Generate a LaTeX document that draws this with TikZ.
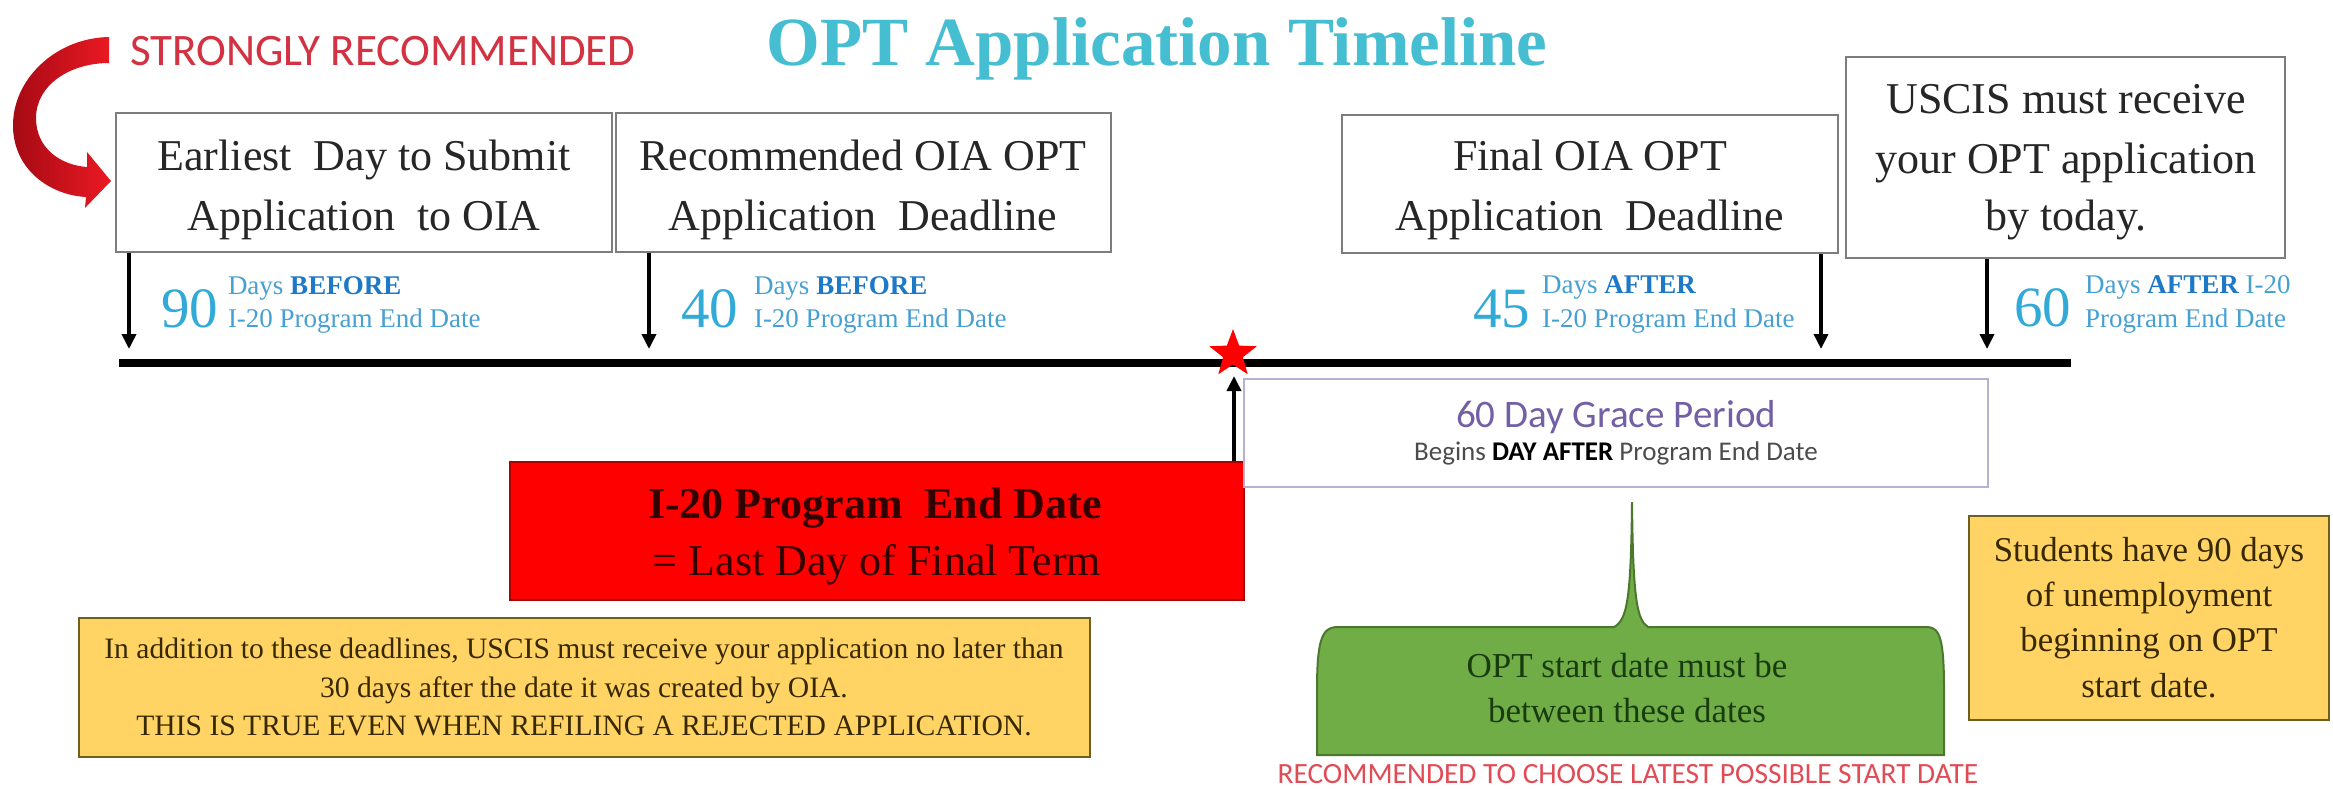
\documentclass[tikz,border=0pt]{standalone}
\usepackage{fontspec}
\setmainfont{Liberation Serif}
\newfontfamily\calibri{Carlito}
\usetikzlibrary{arrows.meta,shapes.geometric}
\definecolor{titlecyan}{RGB}{70,190,210}
\definecolor{strongred}{RGB}{210,50,65}
\definecolor{numcyan}{RGB}{50,170,215}
\definecolor{daysblue}{RGB}{70,160,210}
\definecolor{boldblue}{RGB}{30,120,200}
\definecolor{boxgray}{RGB}{125,125,125}
\definecolor{gracepurple}{RGB}{115,95,165}
\definecolor{graceborder}{RGB}{185,175,210}
\definecolor{redfill}{RGB}{255,0,0}
\definecolor{redborder}{RGB}{170,0,0}
\definecolor{goldfill}{RGB}{255,212,100}
\definecolor{goldborder}{RGB}{110,95,30}
\definecolor{goldtext}{RGB}{55,40,0}
\definecolor{greenfill}{RGB}{112,173,71}
\definecolor{greenborder}{RGB}{75,120,45}
\definecolor{greentext}{RGB}{25,60,15}
\definecolor{lowred}{RGB}{225,75,85}
\definecolor{darkcurve}{RGB}{165,10,20}
\definecolor{brightcurve}{RGB}{235,25,35}
\begin{document}
\begin{tikzpicture}[x=0.5pt,y=-0.5pt,
  lbl/.style={anchor=base,inner sep=0pt,outer sep=0pt},
  tbox/.style={draw=boxgray,line width=1pt,fill=white,inner sep=0pt},
  boxtxt/.style={lbl,font=\fontsize{22}{26}\selectfont,text=black!85},
  bignum/.style={lbl,anchor=base west,font=\fontsize{28.5}{30}\selectfont,text=numcyan},
  smalltxt/.style={lbl,anchor=base west,font=\fontsize{13.5}{15}\selectfont,text=daysblue},
  arr/.style={line width=1.8pt,-{Triangle[length=7.5pt,width=7pt]}},
  goldbox/.style={draw=goldborder,line width=1pt,fill=goldfill,inner sep=0pt},
  goldtxt/.style={lbl,text=goldtext},
]
\useasboundingbox (0,0) rectangle (2333,788);
\fill[white] (0,0) rectangle (2333,788);

% title and strongly recommended
\node[lbl,font=\fontsize{34.5}{38}\selectfont\bfseries,text=titlecyan] (title) at (1157,65) {OPT Application Timeline};
\node[lbl,anchor=base west,font=\calibri\fontsize{22.5}{24}\selectfont,text=strongred] (strong) at (130,65) {STRONGLY RECOMMENDED};

% curved red arrow
\shade[left color=darkcurve,right color=brightcurve]
  (109,37) .. controls (55,38) and (12,80) .. (13,127)
  .. controls (14,170) and (50,195) .. (86,197)
  -- (85,208) -- (111,181) -- (87,152) -- (87,167)
  .. controls (60,165) and (36,148) .. (36,118)
  .. controls (36,85) and (70,63) .. (109,63) -- cycle;

% top boxes
\node[tbox,minimum width=248pt,minimum height=69.5pt] (box1) at (364,182.5) {};
\node[tbox,minimum width=247.5pt,minimum height=69.5pt] (box2) at (863.5,182.5) {};
\node[tbox,minimum width=248pt,minimum height=69pt] (box3) at (1590,184) {};
\node[tbox,minimum width=219.5pt,minimum height=100.5pt] (box4) at (2065.5,157.5) {};

\node[boxtxt] (b1l1) at (364,170) {Earliest\ \ Day to Submit};
\node[boxtxt] (b1l2) at (364,230) {Application\ \ to OIA};
\node[boxtxt] (b2l1) at (863,170) {Recommended OIA OPT};
\node[boxtxt] (b2l2) at (863,230) {Application\ \ Deadline};
\node[boxtxt] (b3l1) at (1590,170) {Final OIA OPT};
\node[boxtxt] (b3l2) at (1590,230) {Application\ \ Deadline};
\node[boxtxt] (b4l1) at (2066,113) {USCIS must receive};
\node[boxtxt] (b4l2) at (2066,173) {your OPT application};
\node[boxtxt] (b4l3) at (2066,230) {by today.};

% day labels
\node[bignum] (n90) at (161,327) {90};
\node[smalltxt] (n90a) at (228,294) {Days \textcolor{boldblue}{\bfseries BEFORE}};
\node[smalltxt] (n90b) at (228,327) {I-20 Program End Date};
\node[bignum] (n40) at (681,327) {40};
\node[smalltxt] (n40a) at (754,294) {Days \textcolor{boldblue}{\bfseries BEFORE}};
\node[smalltxt] (n40b) at (754,327) {I-20 Program End Date};
\node[bignum] (n45) at (1473,327) {45};
\node[smalltxt] (n45a) at (1542,293) {Days \textcolor{boldblue}{\bfseries AFTER}};
\node[smalltxt] (n45b) at (1542,327) {I-20 Program End Date};
\node[bignum] (n60) at (2014,326) {60};
\node[smalltxt] (n60a) at (2085,293) {Days \textcolor{boldblue}{\bfseries AFTER} I-20};
\node[smalltxt] (n60b) at (2085,327) {Program End Date};

% timeline
\coordinate (tl0) at (119,363);
\coordinate (tl1) at (2071,363);
\draw[line width=3.8pt] (tl0) -- (tl1);

% down arrows
\coordinate (a1) at (129,349);
\coordinate (a2) at (649,349);
\coordinate (a3) at (1821,349);
\coordinate (a4) at (1987,349);
\draw[arr] (box1.south -| a1) -- (a1);
\draw[arr] (box2.south -| a2) -- (a2);
\draw[arr] (box3.south -| a3) -- (a3);
\draw[arr] (box4.south -| a4) -- (a4);

% red box and up arrow
\node[draw=redborder,line width=1pt,fill=redfill,minimum width=367pt,minimum height=69pt,inner sep=0pt] (endbox) at (877,531) {};
\node[lbl,font=\fontsize{22}{26}\selectfont\bfseries,text=black!80!red] (endl1) at (875,518) {I-20 Program\ \ End Date};
\node[lbl,font=\fontsize{22}{26}\selectfont,text=black!80!red] (endl2) at (877,575) {= Last Day of Final Term};
\coordinate (uptip) at (1234,376);
\draw[arr] (endbox.north -| uptip) -- (uptip);
\node[star,star points=5,star point ratio=2.4,fill=red,minimum size=25pt,inner sep=0pt] (star) at (1233,354) {};

% grace period box
\node[draw=graceborder,line width=1pt,fill=white,minimum width=372pt,minimum height=54pt,inner sep=0pt] (grace) at (1616,433) {};
\node[lbl,font=\calibri\fontsize{19.5}{22}\selectfont,text=gracepurple] (gl1) at (1616,427) {60 Day Grace Period};
\node[lbl,font=\calibri\fontsize{13.5}{15}\selectfont,text=black!70] (gl2) at (1616,460) {Begins \textcolor{black}{\bfseries DAY AFTER} Program End Date};

% green callout
\filldraw[fill=greenfill,draw=greenborder,line width=1pt]
  (1317,755) -- (1317,690) .. controls (1317,640) and (1322,628) .. (1336,627)
  -- (1614,627) .. controls (1627,620) and (1631,600) .. (1632,502)
  .. controls (1633,600) and (1637,620) .. (1648,627)
  -- (1928,627) .. controls (1940,628) and (1944,640) .. (1944,690)
  -- (1944,755) -- cycle;
\node[lbl,font=\fontsize{17.5}{22}\selectfont,text=greentext] (gr1) at (1627,677) {OPT start date must be};
\node[lbl,font=\fontsize{17.5}{22}\selectfont,text=greentext] (gr2) at (1627,722) {between these dates};
\node[lbl,font=\calibri\fontsize{14.7}{16}\selectfont,text=lowred] (latest) at (1628,783) {RECOMMENDED TO CHOOSE LATEST POSSIBLE START DATE};

% left gold box
\node[goldbox,minimum width=505.5pt,minimum height=69.5pt] (note) at (584.5,687.5) {};
\node[goldtxt,font=\fontsize{14.8}{18}\selectfont] (nl1) at (584,658) {In addition to these deadlines, USCIS must receive your application no later than};
\node[goldtxt,font=\fontsize{14.8}{18}\selectfont] (nl2) at (584,697) {30 days after the date it was created by OIA.};
\node[goldtxt,font=\fontsize{14.8}{18}\selectfont] (nl3) at (584,735) {THIS IS TRUE EVEN WHEN REFILING A REJECTED APPLICATION.};

% right gold box
\node[goldbox,minimum width=180pt,minimum height=102pt] (unemp) at (2149,618) {};
\node[goldtxt,font=\fontsize{17.4}{20}\selectfont] (ul1) at (2149,561) {Students have 90 days};
\node[goldtxt,font=\fontsize{17.4}{20}\selectfont] (ul2) at (2149,606) {of unemployment};
\node[goldtxt,font=\fontsize{17.4}{20}\selectfont] (ul3) at (2149,651) {beginning on OPT};
\node[goldtxt,font=\fontsize{17.4}{20}\selectfont] (ul4) at (2149,697) {start date.};
\end{tikzpicture}
\end{document}
